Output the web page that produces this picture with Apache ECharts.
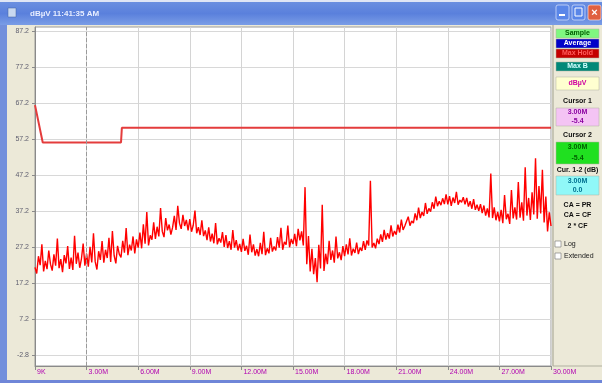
<!DOCTYPE html>
<html><head><meta charset="utf-8">
<script src="https://cdn.jsdelivr.net/npm/echarts@6/dist/echarts.min.js"></script>
<style>html,body{margin:0;padding:0;background:#ece9d8}#c{width:602px;height:383px}</style>
</head><body><div id="c"></div>
<script>
// ---- data ----
const xTickLabels = ['9K','3.00M','6.00M','9.00M','12.00M','15.00M','18.00M','21.00M','24.00M','27.00M','30.00M'];
const yTickValues = [-2.8, 7.2, 17.2, 27.2, 37.2, 47.2, 57.2, 67.2, 77.2, 87.2];
const traceStartMHz = 0;
const traceStepMHz = 0.1;
const traceLevel = [
  21.5,19.8,24.6,22.1,27.9,20.4,23.3,21.0,26.2,22.4,
  20.6,25.1,22.0,29.5,21.3,23.8,20.2,24.9,22.6,27.4,
  21.1,24.2,20.8,30.3,22.5,25.6,21.4,23.9,28.1,22.0,
  25.3,21.7,27.2,22.9,31.0,23.1,20.9,26.0,23.6,28.8,
  22.8,26.4,24.1,29.7,23.0,31.6,24.8,22.6,27.5,25.2,
  24.3,28.9,25.6,32.4,24.9,27.8,26.2,30.1,25.4,29.3,
  27.0,31.2,26.8,33.5,28.1,36.9,27.6,30.4,29.2,34.0,
  29.4,32.8,30.1,38.0,31.5,29.9,35.2,31.8,33.4,30.6,
  32.6,35.8,31.9,38.6,33.8,32.2,36.1,33.0,34.7,31.8,
  34.9,31.4,33.2,37.3,31.0,32.7,30.5,34.6,30.2,31.8,
  29.1,32.6,28.7,30.9,28.2,33.8,27.9,29.6,28.4,31.3,
  27.2,30.5,26.9,28.8,26.4,31.9,27.0,29.1,26.2,28.0,
  25.8,29.4,26.1,27.5,25.0,30.6,25.7,27.9,24.8,26.6,
  24.6,28.3,25.2,31.4,24.9,26.8,25.4,29.7,25.9,27.3,
  26.2,29.9,27.0,32.5,26.4,28.6,27.8,33.1,27.1,29.4,
  28.0,30.8,27.4,32.2,29.0,31.5,27.6,43.8,22.4,30.2,
  20.4,26.7,19.6,24.1,17.4,27.8,21.2,38.9,20.5,25.3,
  22.4,28.9,23.6,26.2,22.8,30.1,24.0,25.7,23.5,27.4,
  24.6,27.9,25.1,29.6,24.8,26.7,25.5,28.4,25.2,27.0,
  26.1,28.8,26.4,29.0,27.6,45.6,27.0,28.3,26.8,29.5,
  28.0,30.7,28.6,31.9,29.2,31.0,29.5,33.2,30.1,31.6,
  30.6,33.4,31.2,34.8,31.9,33.0,32.7,35.6,33.1,34.4,
  33.8,36.5,34.6,38.1,35.2,36.9,35.8,39.4,36.4,37.9,
  37.0,39.6,37.8,41.2,38.5,39.9,38.8,40.7,39.1,41.8,
  39.0,41.3,38.6,40.9,39.4,42.5,38.9,40.2,39.6,41.0,
  39.0,40.8,38.4,39.9,37.8,40.5,37.5,38.9,37.2,39.1,
  36.6,38.7,35.9,37.9,35.4,47.6,35.2,38.2,34.6,36.9,
  34.3,37.5,33.8,41.6,34.9,36.4,33.6,43.0,35.1,38.2,
  34.8,45.2,35.3,39.6,34.5,49.3,35.9,40.8,34.7,42.4,
  36.2,51.8,35.0,44.1,36.5,48.6,34.0,41.2,31.5,36.8,
  33.0
];
const limitFreq  = [0, 0.45, 5.0, 5.05, 30];
const limitLevel = [66.6, 56.2, 56.2, 60.3, 60.3];
const cursorFreq = 3.0;
const titleText = 'dBµV 11:41:35 AM';

// ---- build ----
const traceData = traceLevel.map((v, i) => [traceStartMHz + i * traceStepMHz, v]);
const limitData = limitFreq.map((f, i) => [f, limitLevel[i]]);

const F = '"Liberation Sans", Arial, sans-serif';
function btn(y, h, bg, lines, color) {
  const els = [{type:'rect', shape:{x:556, y:y, width:43, height:h}, style:{fill:bg, stroke:'#b0b0a0', lineWidth:0.5}}];
  const n = lines.length;
  lines.forEach((t, k) => {
    els.push({type:'text', style:{text:t, x:577.5, y:y + h*(k+0.5)/n, fill:color, font:'bold 7px ' + F, textAlign:'center', textVerticalAlign:'middle'}});
  });
  return els;
}
function label(y, t) {
  return {type:'text', style:{text:t, x:577.5, y:y, fill:'#101010', font:'bold 7px ' + F, textAlign:'center', textVerticalAlign:'middle'}};
}

const graphics = [
  // window frame
  {type:'rect', shape:{x:0, y:0, width:602, height:3}, style:{fill:'#dfe6f5'}},
  {type:'rect', shape:{x:0, y:2, width:602, height:23}, style:{fill:new echarts.graphic.LinearGradient(0,0,0,1,[{offset:0,color:'#6a8fe0'},{offset:0.5,color:'#5a80dc'},{offset:1,color:'#7a9de6'}])}},
  {type:'rect', shape:{x:0, y:25, width:7, height:358}, style:{fill:'#7390dc'}},
  {type:'rect', shape:{x:0, y:380, width:602, height:3}, style:{fill:'#6f86d8'}},
  {type:'rect', shape:{x:8, y:8, width:8, height:9}, style:{fill:'#c8d8f0', stroke:'#4060a0', lineWidth:0.5}},
  {type:'text', style:{text:titleText, x:30, y:14, fill:'#e8eeff', font:'bold 8px ' + F, textVerticalAlign:'middle'}},
  {type:'rect', shape:{x:556, y:5, width:13, height:15, r:2}, style:{fill:'#5a86e8', stroke:'#e0e8ff', lineWidth:0.7}},
  {type:'rect', shape:{x:572, y:5, width:13, height:15, r:2}, style:{fill:'#5a86e8', stroke:'#e0e8ff', lineWidth:0.7}},
  {type:'rect', shape:{x:588, y:5, width:13, height:15, r:2}, style:{fill:'#e06040', stroke:'#ffe0d8', lineWidth:0.7}},
  {type:'text', style:{text:'×', x:594.5, y:12.5, fill:'#ffffff', font:'bold 11px ' + F, textAlign:'center', textVerticalAlign:'middle'}},
  {type:'rect', shape:{x:559, y:14, width:6, height:2}, style:{fill:'#ffffff'}},
  {type:'rect', shape:{x:575, y:8, width:7, height:8}, style:{fill:'none', stroke:'#ffffff', lineWidth:1}},
  // right panel separator
  {type:'line', shape:{x1:553, y1:25, x2:553, y2:366}, style:{stroke:'#a0a090', lineWidth:1}},
  {type:'line', shape:{x1:553, y1:366, x2:602, y2:366}, style:{stroke:'#b0b0a0', lineWidth:1}},
  ...btn(29, 9, '#80f880', ['Sample'], '#006000'),
  ...btn(39, 9, '#0000c8', ['Average'], '#ffffff'),
  ...btn(49, 9, '#c40000', ['Max Hold'], '#ff5a5a'),
  ...btn(62, 9, '#008878', ['Max B'], '#d0ffff'),
  ...btn(77, 13, '#ffffd0', ['dBµV'], '#d000a0'),
  label(101, 'Cursor 1'),
  ...btn(108, 18, '#f4c4f4', ['3.00M', '-5.4'], '#8a00a0'),
  label(135, 'Cursor 2'),
  ...btn(142, 22, '#20e020', ['3.00M', '-5.4'], '#006000'),
  label(170, 'Cur. 1-2 (dB)'),
  ...btn(176, 19, '#90f8f8', ['3.00M', '0.0'], '#007090'),
  label(205, 'CA = PR'),
  label(215, 'CA = CF'),
  label(226, '2 * CF'),
  {type:'rect', shape:{x:555, y:241, width:6, height:6}, style:{fill:'#ffffff', stroke:'#707070', lineWidth:0.6}},
  {type:'text', style:{text:'Log', x:564, y:244, fill:'#202020', font:'7px ' + F, textVerticalAlign:'middle'}},
  {type:'rect', shape:{x:555, y:253, width:6, height:6}, style:{fill:'#ffffff', stroke:'#707070', lineWidth:0.6}},
  {type:'text', style:{text:'Extended', x:564, y:256, fill:'#202020', font:'7px ' + F, textVerticalAlign:'middle'}}
];

const chart = echarts.init(document.getElementById('c'), null, {renderer:'canvas'});
chart.setOption({
  animation: false,
  backgroundColor: '#ece9d8',
  grid: {left:35, right:51, top:27, bottom:17, show:true, backgroundColor:'#ffffff', borderColor:'#9a9a9a', borderWidth:1},
  xAxis: {
    type:'value', min:0, max:30, interval:3,
    axisLine:{show:true, onZero:false, lineStyle:{color:'#8a8a8a'}},
    axisTick:{show:true, length:4, lineStyle:{color:'#8a8a8a'}},
    splitLine:{show:true, lineStyle:{color:'#d4d4d4', width:1}},
    axisLabel:{
      color:'#b000b0', fontSize:7, fontFamily:F, margin:3, align:'left', padding:[0,0,0,2],
      formatter:(v) => { const i = Math.round(v / 3); return xTickLabels[i] !== undefined ? xTickLabels[i] : ''; }
    }
  },
  yAxis: {
    type:'value', min:-5.9, max:88.3,
    axisLine:{show:true, lineStyle:{color:'#8a8a8a'}},
    axisTick:{show:true, length:3, inside:false, customValues:yTickValues, lineStyle:{color:'#8a8a8a'}},
    splitLine:{show:true, lineStyle:{color:'#d8d8d8', width:1}},
    axisLabel:{customValues:yTickValues, color:'#606070', fontSize:7, fontFamily:F, margin:6, padding:[5,0,0,0],
      formatter:(v) => (Math.round(v*10)/10).toFixed(1)}
  },
  graphic: graphics,
  series: [
    {
      type:'line', data:limitData, showSymbol:false, symbol:'none',
      lineStyle:{color:'#e43c3c', width:2}, z:3,
      markLine:{silent:true, symbol:'none', label:{show:false},
        lineStyle:{color:'#9a9a9a', type:'dashed', width:1},
        data:[{xAxis:cursorFreq}]}
    },
    {
      type:'line', data:traceData, showSymbol:false, symbol:'none',
      lineStyle:{color:'#ff0000', width:1.4}, z:4
    }
  ]
});
</script></body></html>
